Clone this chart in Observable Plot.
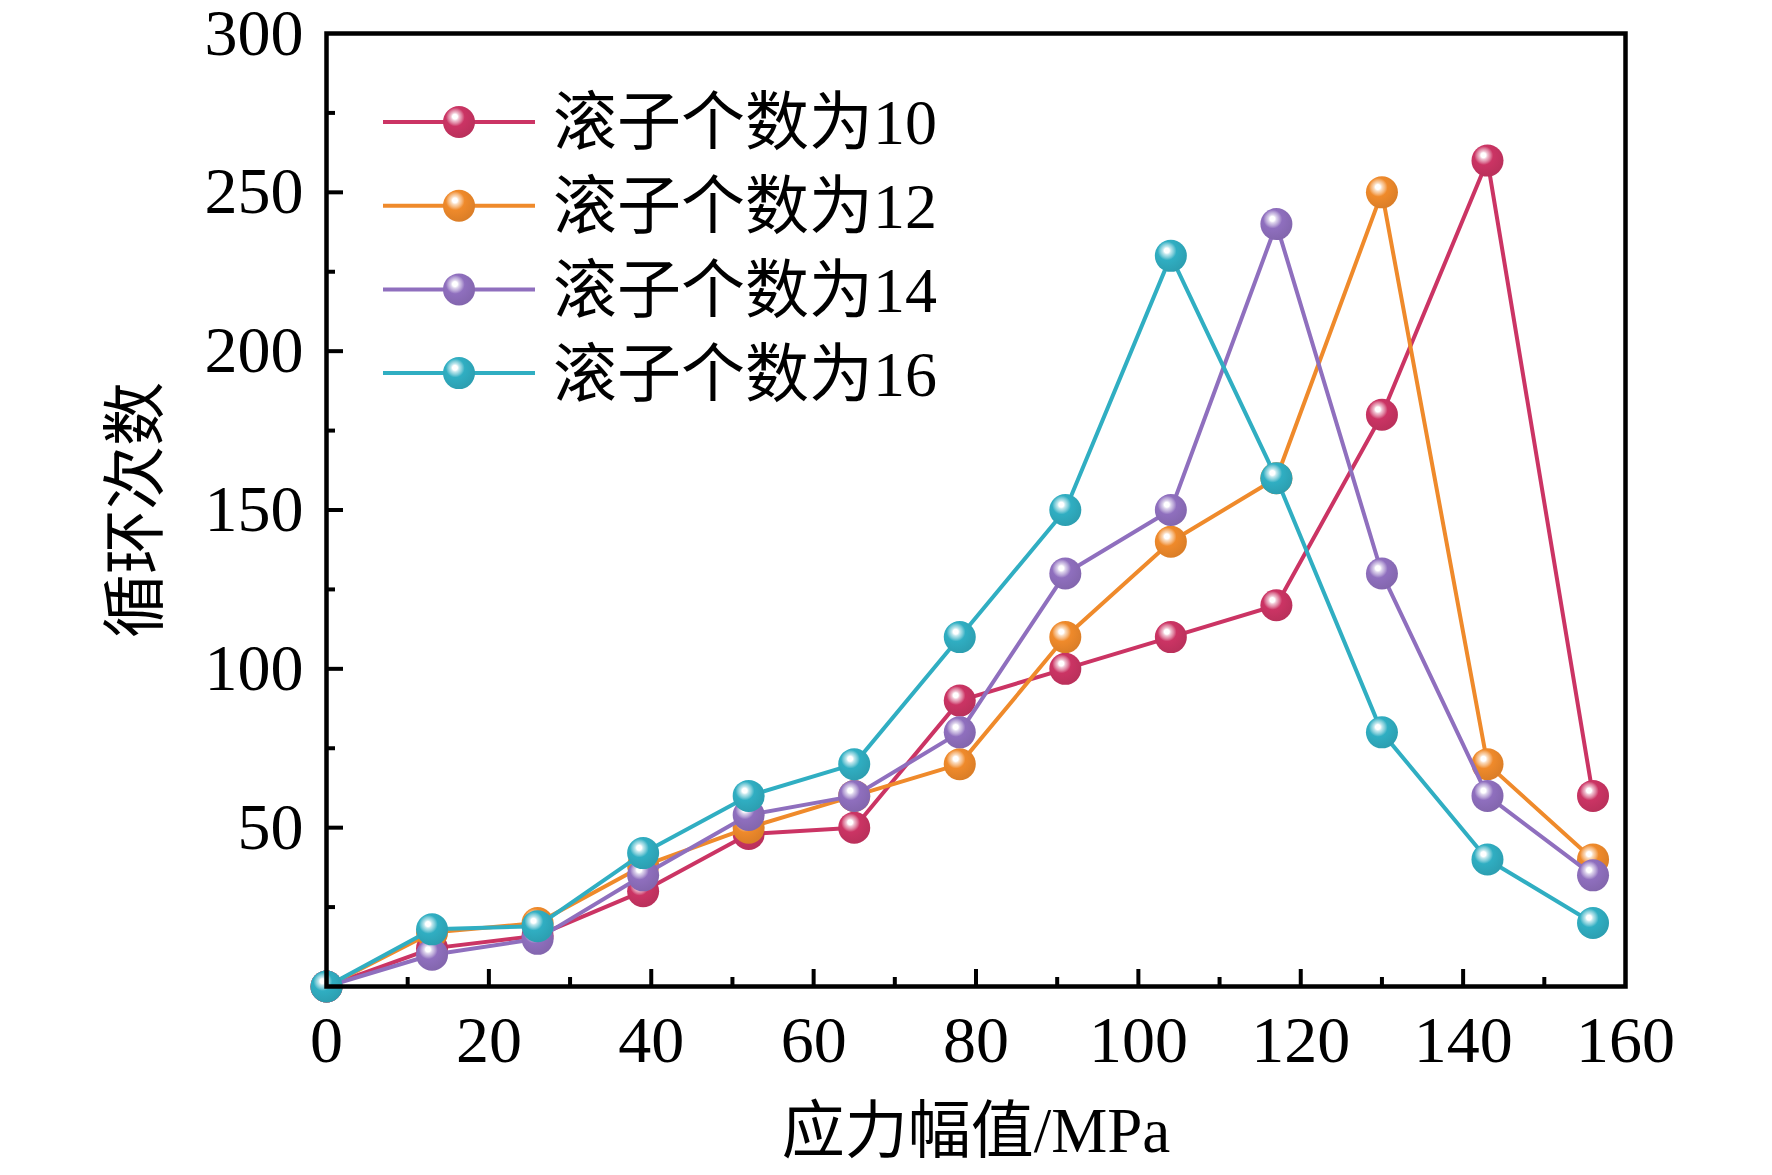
<!DOCTYPE html>
<html><head><meta charset="utf-8">
<script src="https://cdn.jsdelivr.net/npm/d3@7"></script>
<script src="https://cdn.jsdelivr.net/npm/@observablehq/plot@0.6"></script>
<style>
body{margin:0;background:#fff}
#chart{position:relative;width:1772px;height:1175px;background:#fff}
#legend{position:absolute;left:0;top:0;pointer-events:none}
</style>
</head><body>
<div id="chart"></div>
<script>
// ---- data ----
const stress = [0, 13, 26, 39, 52, 65, 78, 91, 104, 117, 130, 143, 156];
const seriesNames = ["滚子个数为10", "滚子个数为12", "滚子个数为14", "滚子个数为16"];
const cycles10 = [0, 12, 16, 30, 48, 50, 90, 100, 110, 120, 180, 260, 60];
const cycles12 = [0, 17, 20, 38, 50, 60, 70, 110, 140, 160, 250, 70, 40];
const cycles14 = [0, 10, 15, 35, 54, 60, 80, 130, 150, 240, 130, 60, 35];
const cycles16 = [0, 18, 19, 42, 60, 70, 110, 150, 230, 160, 80, 40, 20];
const colors = ["#CB3464", "#EF8A2B", "#8F6FBE", "#30AEC2"];
const xTicks = [0, 20, 40, 60, 80, 100, 120, 140, 160];
const xMinor = [10, 30, 50, 70, 90, 110, 130, 150];
const yTicks = [50, 100, 150, 200, 250, 300];
const yMinor = [25, 75, 125, 175, 225, 275];
const xTitle = "应力幅值/MPa";
const yTitle = "循环次数";

// ---- layout ----
const W = 1772, H = 1175;
const mL = 326, mR = 147, mT = 33, mB = 189;
const fw = W - mL - mR, fh = H - mT - mB;
const FONT = '"Liberation Serif", "Times New Roman", "Noto Sans CJK SC", serif';

// gradient defs for spherical markers
function tint(c, k) { return d3.interpolateRgb(c, "#fff")(k); }
let defs = '<svg width="0" height="0" style="position:absolute"><defs>';
colors.forEach((c, i) => {
  defs += `<radialGradient id="ball${i}" cx="0.4" cy="0.36" r="0.64" fx="0.37" fy="0.33">
    <stop offset="0" stop-color="#fff"/>
    <stop offset="0.12" stop-color="#fff"/>
    <stop offset="0.2" stop-color="${tint(c, 0.7)}"/>
    <stop offset="0.34" stop-color="${tint(c, 0.35)}"/>
    <stop offset="0.46" stop-color="${c}"/>
    <stop offset="1" stop-color="${d3.rgb(c).darker(0.25)}"/>
  </radialGradient>`;
});
defs += '</defs></svg>';
document.body.insertAdjacentHTML("afterbegin", defs);

const series = [cycles10, cycles12, cycles14, cycles16];

const marks = [
  Plot.tickX(xTicks.filter(v => v > 0 && v < 160), {x: d => d, stroke: "#000", strokeWidth: 4, insetTop: fh - 17}),
  Plot.tickX(xMinor, {x: d => d, stroke: "#000", strokeWidth: 4, insetTop: fh - 9}),
  Plot.tickY(yTicks.filter(v => v < 300), {y: d => d, stroke: "#000", strokeWidth: 4, insetRight: fw - 17}),
  Plot.tickY(yMinor, {y: d => d, stroke: "#000", strokeWidth: 4, insetRight: fw - 9}),
  Plot.axisX(xTicks, {tickSize: 0, tickPadding: 29, fontSize: 66, fontFamily: FONT, label: null}),
  Plot.axisY(yTicks, {tickSize: 0, tickPadding: 23, fontSize: 66, fontFamily: FONT, label: null}),
  Plot.text([xTitle], {text: d => d, frameAnchor: "bottom", dy: 145, textAnchor: "middle", lineAnchor: "middle", fontSize: 63, fontFamily: FONT, fill: "#000"}),
  Plot.text([yTitle], {text: d => d, frameAnchor: "left", dx: -190, rotate: -90, textAnchor: "middle", lineAnchor: "middle", fontSize: 64, fontFamily: FONT, fill: "#000"})
];

series.forEach((vals, i) => {
  const data = stress.map((x, j) => ({x, y: vals[j]}));
  marks.push(Plot.line(data, {x: "x", y: "y", stroke: colors[i], strokeWidth: 4}));
  marks.push(Plot.dot(data, {x: "x", y: "y", r: 16, fill: `url(#ball${i})`}));
});
marks.push(Plot.frame({stroke: "#000", strokeWidth: 4.5}));

const chart = Plot.plot({
  width: W, height: H,
  marginLeft: mL, marginRight: mR, marginTop: mT, marginBottom: mB,
  x: {domain: [0, 160]},
  y: {domain: [0, 300]},
  style: {fontFamily: FONT, fontSize: "66px", color: "#000", background: "#fff", overflow: "visible"},
  marks
});
document.getElementById("chart").appendChild(chart);

// ---- legend overlay ----
const lg = d3.select("#chart").append("svg").attr("id", "legend").attr("width", W).attr("height", H);
const rowY0 = 122, rowDy = 83.7;
seriesNames.forEach((name, i) => {
  const y = rowY0 + i * rowDy;
  lg.append("line").attr("x1", 383).attr("x2", 535).attr("y1", y).attr("y2", y)
    .attr("stroke", colors[i]).attr("stroke-width", 4);
  lg.append("circle").attr("cx", 459).attr("cy", y).attr("r", 16).attr("fill", `url(#ball${i})`);
  lg.append("text").attr("x", 553).attr("y", y).attr("dy", "0.35em")
    .attr("font-family", FONT).attr("font-size", 64).attr("fill", "#000").text(name);
});
</script>
</body></html>
